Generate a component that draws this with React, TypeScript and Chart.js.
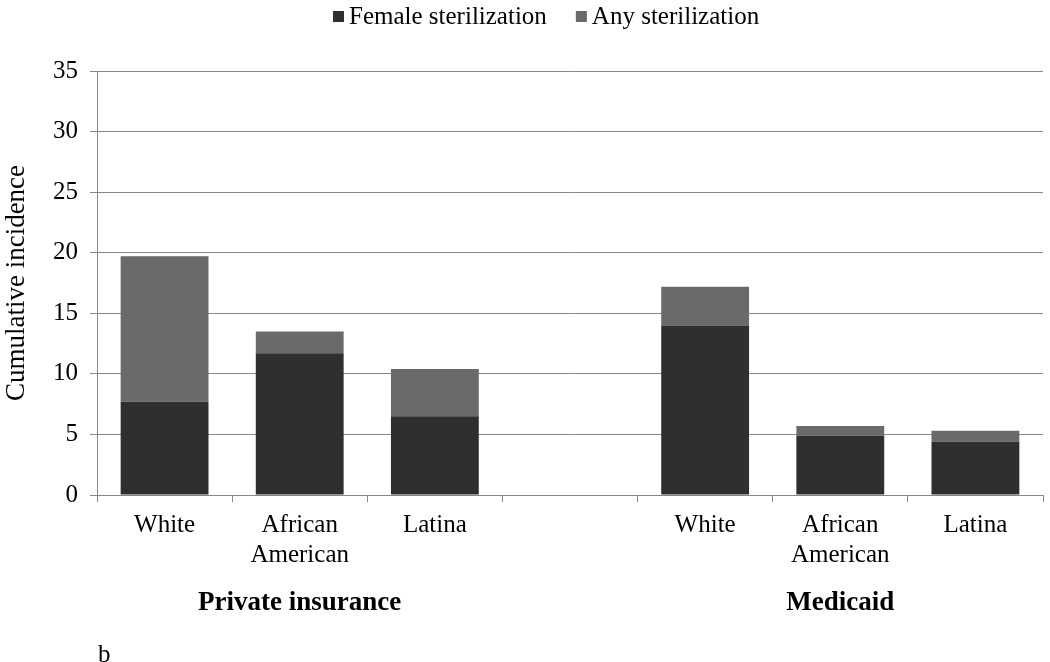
import React, { useEffect, useRef } from "react";
import { Chart, registerables } from "chart.js";

Chart.register(...registerables);

const categories: (string | string[])[] = [
  "White",
  ["African", "American"],
  "Latina",
  "",
  "White",
  ["African", "American"],
  "Latina",
];
const femaleSterilization: (number | null)[] = [7.7, 11.7, 6.5, null, 14.0, 4.9, 4.4];
const anySterilization: (number | null)[] = [12.0, 1.8, 3.9, null, 3.2, 0.8, 0.9];
const seriesLabels = ["Female sterilization", "Any sterilization"];
const seriesColors = ["#2f2f2f", "#6a6a6a"];
const groupLabels = ["Private insurance", "Medicaid"];
const groupCenterIndex = [1, 5];
const panelLetter = "b";
const yTicks = [0, 5, 10, 15, 20, 25, 30, 35];

const FONT = "'Liberation Serif', 'Times New Roman', serif";

const overlayPlugin = {
  id: "overlayText",
  afterDraw(chart: any) {
    const ctx = chart.ctx;
    const xs = chart.scales.x;
    ctx.save();
    // legend
    ctx.font = `25px ${FONT}`;
    ctx.textBaseline = "middle";
    ctx.textAlign = "left";
    let x = 333;
    const cy = 16;
    chart.data.datasets.forEach((ds: any) => {
      ctx.fillStyle = ds.backgroundColor;
      ctx.fillRect(x, cy - 5, 11, 11);
      ctx.fillStyle = "#000";
      ctx.fillText(ds.label, x + 16, cy + 1);
      x += 16 + ctx.measureText(ds.label).width + 29;
    });
    // group labels
    ctx.textAlign = "center";
    ctx.font = `bold 27px ${FONT}`;
    groupLabels.forEach((g, i) => {
      ctx.fillText(g, xs.getPixelForValue(groupCenterIndex[i]), 603);
    });
    ctx.font = `25px ${FONT}`;
    ctx.textAlign = "left";
    ctx.fillText(panelLetter, 98, 655);
    ctx.restore();
  },
};

export default function App() {
  const ref = useRef<HTMLCanvasElement | null>(null);
  useEffect(() => {
    if (!ref.current) return;
    const chart = new Chart(ref.current, {
      type: "bar",
      data: {
        labels: categories as any,
        datasets: [
          {
            label: seriesLabels[0],
            data: femaleSterilization,
            backgroundColor: seriesColors[0],
            borderWidth: 0,
            barPercentage: 0.65,
            categoryPercentage: 1,
          },
          {
            label: seriesLabels[1],
            data: anySterilization,
            backgroundColor: seriesColors[1],
            borderWidth: 0,
            barPercentage: 0.65,
            categoryPercentage: 1,
          },
        ],
      },
      options: {
        responsive: false,
        animation: false,
        layout: { padding: { top: 71, right: 7, left: 0, bottom: 0 } },
        plugins: {
          tooltip: { enabled: false },
          legend: { display: false },
        },
        scales: {
          x: {
            stacked: true,
            grid: {
              drawOnChartArea: false,
              drawTicks: true,
              tickLength: 7,
              color: "#888",
              offset: true,
            },
            border: { display: true, color: "#888" },
            ticks: {
              color: "#000",
              font: { family: FONT, size: 25 },
              padding: 8,
              maxRotation: 0,
              autoSkip: false,
            },
            afterFit(scale: any) {
              scale.height = 167;
            },
          },
          y: {
            stacked: true,
            min: 0,
            max: 35,
            afterBuildTicks(scale: any) {
              scale.ticks = yTicks.map((v) => ({ value: v }));
            },
            grid: { color: "#888", tickLength: 7, drawTicks: true },
            border: { display: true, color: "#888" },
            ticks: {
              color: "#000",
              font: { family: FONT, size: 25 },
              padding: 12,
            },
            title: {
              display: true,
              text: "Cumulative incidence",
              color: "#000",
              font: { family: FONT, size: 27 },
              padding: { top: 1, bottom: 0 },
            },
            afterFit(scale: any) {
              scale.width = 97;
            },
          },
        },
      },
      plugins: [overlayPlugin],
    });
    return () => chart.destroy();
  }, []);
  return (
    <div style={{ position: "absolute", left: 0, top: 0, width: 1050, height: 662, background: "#fff" }}>
      <canvas ref={ref} width={1050} height={662} />
    </div>
  );
}
